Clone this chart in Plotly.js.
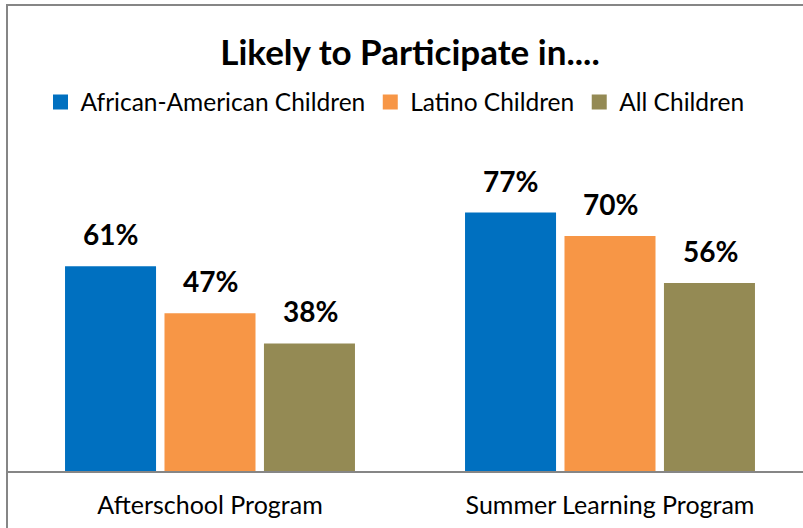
<!DOCTYPE html>
<html>
<head>
<meta charset="utf-8">
<script src="https://cdn.plot.ly/plotly-3.0.1.min.js"></script>
<style>html,body{margin:0;padding:0;background:#fff;}#chart{width:803px;height:528px;}</style>
</head>
<body>
<div id="chart"></div>
<script>
const categories = ["Afterschool Program", "Summer Learning Program"];
const seriesNames = ["African-American Children", "Latino Children", "All Children"];
const africanAmerican = [61, 77];
const latino = [47, 70];
const allChildren = [38, 56];
const seriesColors = ["#0070C0", "#F79646", "#948A54"];

const FONT = "Lato, 'Open Sans', sans-serif";
const seriesValues = [africanAmerican, latino, allChildren];

const traces = seriesValues.map((vals, i) => ({
  type: "bar",
  name: seriesNames[i],
  x: categories,
  y: vals,
  marker: {color: seriesColors[i], line: {width: 0}},
  hoverinfo: "none",
  showlegend: false
}));

// legend entries with larger square swatches
seriesNames.forEach((nm, i) => {
  traces.push({
    type: "scatter", mode: "markers", name: nm,
    x: [null], y: [null],
    marker: {symbol: "square", size: 15, color: seriesColors[i], line: {width: 0}},
    hoverinfo: "none", showlegend: true
  });
});

const offsets = [-100, 0, 100];
const annotations = [];
seriesValues.forEach((vals, i) => {
  vals.forEach((v, j) => {
    annotations.push({
      x: categories[j], y: v, xref: "x", yref: "y",
      text: v + "%", showarrow: false,
      xanchor: "center", yanchor: "bottom",
      xshift: offsets[i], yshift: 13,
      font: {family: FONT, size: 28, color: "#000", weight: "bold"}
    });
  });
});

const layout = {
  width: 803, height: 528,
  margin: {l: 7, r: 0, t: 169, b: 57},
  paper_bgcolor: "#fff", plot_bgcolor: "#fff",
  title: {
    text: "<b>Likely to Participate in....</b>",
    font: {family: FONT, size: 35, color: "#000"},
    x: (410 - 7) / 796, xanchor: "center", xref: "paper",
    y: 1 - 53/528, yanchor: "middle", yref: "container"
  },
  showlegend: true,
  legend: {
    orientation: "h", x: (395 - 7) / 796, xanchor: "center", xref: "paper",
    y: 1 - 102/528, yanchor: "middle", yref: "container",
    font: {family: FONT, size: 24.5, color: "#000"},
    itemclick: false, itemdoubleclick: false, traceorder: "normal",
    itemwidth: 30
  },
  barmode: "group",
  bargap: 0.254,
  bargroupgap: 0.085,
  xaxis: {
    type: "category",
    range: [-0.5075, 1.4825],
    showline: true, linecolor: "#868686", linewidth: 2,
    showgrid: false, zeroline: false,
    ticks: "", ticklabelstandoff: 11,
    tickfont: {family: FONT, size: 25, color: "#000"},
    fixedrange: true
  },
  yaxis: {
    range: [0, 90], visible: false, showgrid: false, zeroline: false, fixedrange: true
  },
  annotations: annotations,
  shapes: [{
    type: "rect", xref: "paper", yref: "paper",
    x0: 0, x1: 1.02, y0: -0.25, y1: (471 - 5) / 302,
    line: {color: "#868686", width: 2}, fillcolor: "rgba(0,0,0,0)", layer: "above"
  }]
};

Plotly.newPlot("chart", traces, layout, {displayModeBar: false, staticPlot: true});
</script>
</body>
</html>
